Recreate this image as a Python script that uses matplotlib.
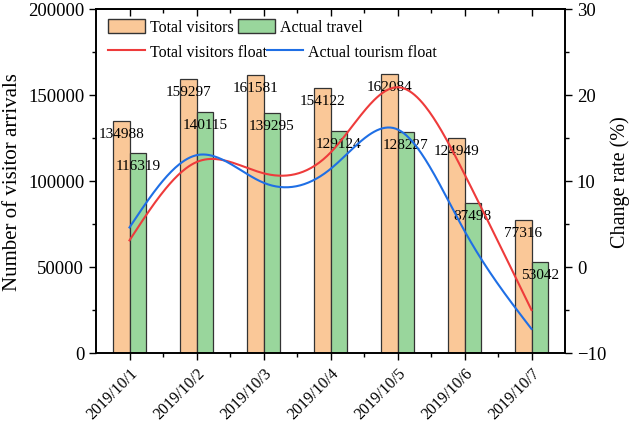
import numpy as np
import matplotlib.pyplot as plt
from matplotlib.patches import Patch
from matplotlib.lines import Line2D
from matplotlib.ticker import MultipleLocator
import matplotlib.transforms as mtransforms

plt.rcParams['font.family'] = ['Liberation Serif', 'DejaVu Serif']

# data
dates = ['2019/10/1', '2019/10/2', '2019/10/3', '2019/10/4',
         '2019/10/5', '2019/10/6', '2019/10/7']
total_visitors = [134988, 159297, 161581, 154122, 162084, 124949, 77316]
actual_travel = [116319, 140115, 139295, 129124, 128227, 87498, 53042]
total_float = [3.1, 12.2, 10.9, 13.3, 20.9, 10.8, -5.0]
actual_float = [4.6, 13.0, 9.8, 11.4, 16.0, 4.2, -7.2]

ORANGE = '#FAC898'
GREEN = '#99D69C'
RED = '#EE3B3B'
BLUE = '#1F6FE5'


def natural_spline(x, y, xs):
    x = np.asarray(x, float)
    y = np.asarray(y, float)
    n = len(x)
    h = np.diff(x)
    A = np.zeros((n, n))
    b = np.zeros(n)
    A[0, 0] = A[-1, -1] = 1
    for i in range(1, n - 1):
        A[i, i - 1] = h[i - 1]
        A[i, i] = 2 * (h[i - 1] + h[i])
        A[i, i + 1] = h[i]
        b[i] = 6 * ((y[i + 1] - y[i]) / h[i] - (y[i] - y[i - 1]) / h[i - 1])
    M = np.linalg.solve(A, b)
    out = np.empty_like(xs)
    for k, t in enumerate(xs):
        i = min(max(np.searchsorted(x, t) - 1, 0), n - 2)
        a, c = x[i], x[i + 1]
        hi = h[i]
        out[k] = (M[i] * (c - t) ** 3 / (6 * hi) + M[i + 1] * (t - a) ** 3 / (6 * hi)
                  + (y[i] / hi - M[i] * hi / 6) * (c - t)
                  + (y[i + 1] / hi - M[i + 1] * hi / 6) * (t - a))
    return out


fig = plt.figure(figsize=(6.3, 4.27), dpi=100)
ax = fig.add_axes([96 / 630, 1 - 354 / 427, 469 / 630, 344 / 427])

x = np.arange(len(dates))
w = 0.25
ax.bar(x - w / 2, total_visitors, w, color=ORANGE, edgecolor='#333333', linewidth=0.9, zorder=2)
ax.bar(x + w / 2, actual_travel, w, color=GREEN, edgecolor='#333333', linewidth=0.9, zorder=2)

# value labels
for xi, v in zip(x, total_visitors):
    ax.annotate(str(v), (xi - w / 2, v), xytext=(0, -9), textcoords='offset points',
                ha='center', va='center', fontsize=11, zorder=5)
for xi, v in zip(x, actual_travel):
    ax.annotate(str(v), (xi + w / 2, v), xytext=(0, -9), textcoords='offset points',
                ha='center', va='center', fontsize=11, zorder=5)

ax.set_xlim(-0.5, 6.5)
ax.set_ylim(0, 200000)
ax.yaxis.set_major_locator(MultipleLocator(50000))
ax.yaxis.set_minor_locator(MultipleLocator(25000))
ax.set_xticks(x)
ax.set_xticks(x[:-1] + 0.5, minor=True)
ax.set_xticklabels(dates, rotation=45, ha='right', rotation_mode='anchor', fontsize=11.5)
offset = mtransforms.ScaledTranslation(8 / 72, 0, fig.dpi_scale_trans)
for lbl in ax.get_xticklabels():
    lbl.set_transform(lbl.get_transform() + offset)
ax.tick_params(axis='both', which='major', direction='out', length=5, width=1, labelsize=13.5)
ax.tick_params(axis='x', which='major', labelsize=11.5)
ax.tick_params(axis='both', which='minor', direction='out', length=3, width=1)
ax.set_ylabel('Number of visitor arrivals', fontsize=15, labelpad=4)

top = ax.secondary_xaxis('top')
top.set_xticks(x)
top.set_xticks(x[:-1] + 0.5, minor=True)
top.tick_params(which='major', direction='in', length=5, width=1, labeltop=False)
top.tick_params(which='minor', direction='in', length=3, width=1)
top.spines['top'].set_linewidth(1.2)

for s in ax.spines.values():
    s.set_linewidth(1.2)

# change rate curves
ax2 = ax.twinx()
xs = np.linspace(0, 6, 300)
ax2.plot(xs, natural_spline(x, total_float, xs), color=RED, lw=1.5, zorder=3)
ax2.plot(xs, natural_spline(x, actual_float, xs), color=BLUE, lw=1.5, zorder=3)
ax2.set_ylim(-10, 30)
ax2.yaxis.set_major_locator(MultipleLocator(10))
ax2.yaxis.set_minor_locator(MultipleLocator(5))
ax2.tick_params(which='major', direction='out', length=5, width=1, labelsize=13.5)
ax2.tick_params(which='minor', direction='out', length=3, width=1)
ax2.set_ylabel('Change rate (%)', fontsize=14.5, labelpad=3)
for s in ax2.spines.values():
    s.set_linewidth(1.2)

# legends
bar_handles = [Patch(facecolor=ORANGE, edgecolor='#333333'),
               Patch(facecolor=GREEN, edgecolor='#333333')]
leg1 = ax2.legend(bar_handles, ['Total visitors', 'Actual travel'], ncol=2,
                  loc='center left', bbox_to_anchor=(0.026, 0.948), frameon=False,
                  fontsize=11.5, handlelength=2.3, handleheight=1.0,
                  handletextpad=0.3, columnspacing=0.3, borderpad=0, borderaxespad=0)
ax2.add_artist(leg1)
line_handles = [Line2D([], [], color=RED, lw=1.5), Line2D([], [], color=BLUE, lw=1.5)]
ax2.legend(line_handles, ['Total visitors float', 'Actual tourism float'], ncol=2,
           loc='center left', bbox_to_anchor=(0.026, 0.875), frameon=False,
           fontsize=11.5, handlelength=2.3, handletextpad=0.3, columnspacing=0.0,
           borderpad=0, borderaxespad=0)

fig.savefig('out.png', dpi=100, facecolor='white')
